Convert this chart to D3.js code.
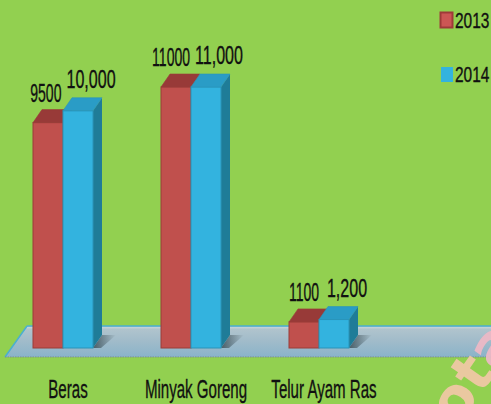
<!DOCTYPE html>
<html><head><meta charset="utf-8">
<script src="https://cdn.jsdelivr.net/npm/d3@7"></script>
<style>html,body{margin:0;padding:0;background:#92D050;}svg{display:block;}</style>
</head><body><div id="chart"></div>
<script>
const categories = ["Beras", "Minyak Goreng", "Telur Ayam Ras"];
const series = ["2013", "2014"];
const values2013 = [9500, 11000, 1100];
const values2014 = [10000, 11000, 1200];
const labels2013 = ["9500", "11000", "1100"];
const labels2014 = ["10,000", "11,000", "1,200"];

const W = 491, H = 404;
const colors = {
  "2013": {front: "#C0504D", top: "#983A38", side: "#8C3230", stroke: "#9A3C39"},
  "2014": {front: "#33B3DF", top: "#2A9CC6", side: "#1F7C98", stroke: "#2A93B8"}
};
const dx = 9, dy = 13;

const svg = d3.select("#chart").append("svg").attr("width", W).attr("height", H);
svg.append("rect").attr("width", W).attr("height", H).attr("fill", "#92D050");

const defs = svg.append("defs");
const fg = defs.append("linearGradient").attr("id", "floorGrad").attr("x1", 0).attr("y1", 0).attr("x2", 0).attr("y2", 1);
fg.append("stop").attr("offset", "0%").attr("stop-color", "#B4C6CE");
fg.append("stop").attr("offset", "45%").attr("stop-color", "#A2BCCA");
fg.append("stop").attr("offset", "100%").attr("stop-color", "#8AB3C9");
const sg = defs.append("linearGradient").attr("id", "shadowGrad").attr("x1", 0).attr("y1", 0).attr("x2", 1).attr("y2", 0);
sg.append("stop").attr("offset", "0%").attr("stop-color", "#2f3f45").attr("stop-opacity", 0.75);
sg.append("stop").attr("offset", "100%").attr("stop-color", "#2f3f45").attr("stop-opacity", 0);

const x0 = d3.scaleBand().domain(categories).range([-1, 383]).paddingInner(0.53125).paddingOuter(0.265625);
const x1 = d3.scaleBand().domain(series).range([0, x0.bandwidth()]);
const y = d3.scaleLinear().domain([0, 11000]).range([348, 87]);

// floor
const yb = y(0);
const floorFront = yb + 9, floorBack = yb - 22;
svg.append("polygon")
  .attr("points", [[5, floorFront], [27, floorBack], [W + 5, floorBack], [W + 5, floorFront]].map(p => p.join(",")).join(" "))
  .attr("fill", "url(#floorGrad)");
svg.append("line").attr("x1", 27).attr("y1", floorBack).attr("x2", W).attr("y2", floorBack)
  .attr("stroke", "#4AAFD0").attr("stroke-width", 1.5);
svg.append("line").attr("x1", 27).attr("y1", floorBack + 1.8).attr("x2", W).attr("y2", floorBack + 1.8)
  .attr("stroke", "#C9D6DB").attr("stroke-width", 1);
svg.append("line").attr("x1", 5).attr("y1", floorFront).attr("x2", 27).attr("y2", floorBack)
  .attr("stroke", "#4AAFD0").attr("stroke-width", 1.5);
svg.append("line").attr("x1", 5).attr("y1", floorFront).attr("x2", W).attr("y2", floorFront)
  .attr("stroke", "#7E8E8E").attr("stroke-width", 1.2).attr("stroke-dasharray", "1.5,1");

const data = categories.map((c, i) => ({
  cat: c,
  bars: [
    {s: "2013", v: values2013[i], label: labels2013[i]},
    {s: "2014", v: values2014[i], label: labels2014[i]}
  ]
}));

const g = svg.append("g");
data.forEach(d => {
  d.bars.forEach((b, j) => {
    const x = x0(d.cat) + x1(b.s), w = x1.bandwidth();
    const yt = y(b.v), ybot = y(0);
    const c = colors[b.s];
    if (j === d.bars.length - 1) {
      g.append("polygon")
        .attr("points", [[x + w, ybot], [x + w + dx, ybot - dy], [x + w + dx + 14, ybot - dy], [x + w + 8, ybot]].map(p => p.join(",")).join(" "))
        .attr("fill", "url(#shadowGrad)");
    }
    g.append("polygon")
      .attr("points", [[x + w, yt], [x + w + dx, yt - dy], [x + w + dx, ybot - dy], [x + w, ybot]].map(p => p.join(",")).join(" "))
      .attr("fill", c.side);
    g.append("rect").attr("x", x).attr("y", yt).attr("width", w).attr("height", ybot - yt)
      .attr("fill", c.front).attr("stroke", c.stroke).attr("stroke-width", 1);
    g.append("polygon")
      .attr("points", [[x, yt], [x + dx, yt - dy], [x + w + dx, yt - dy], [x + w, yt]].map(p => p.join(",")).join(" "))
      .attr("fill", c.top).attr("stroke", c.stroke).attr("stroke-width", 0.6);
  });
});

// watermark fragment (on top of the floor, bottom-right corner)
const wm = svg.append("text")
  .attr("transform", "translate(458,428) rotate(-55)")
  .attr("font-family", "'DejaVu Sans', sans-serif").attr("font-size", 58).attr("font-weight", "bold")
  .attr("fill", "#EFC8A5").attr("opacity", 0.95);
wm.append("tspan").text("ot");
wm.append("tspan").attr("fill", "#ECB9C6").text("a");

// text helper (condensed look)
const font = "'Liberation Sans', Arial, sans-serif";
function condensedText(parent, txt, cx, by, size, sx, anchor) {
  return parent.append("text")
    .attr("transform", `translate(${cx},${by}) scale(${sx},1)`)
    .attr("text-anchor", anchor || "middle")
    .attr("font-family", font).attr("font-size", size).attr("fill", "#111")
    .attr("stroke", "#111").attr("stroke-width", 0.35)
    .text(txt);
}
data.forEach(d => {
  const xr = x0(d.cat) + x1("2013"), xbl = x0(d.cat) + x1("2014"), w = x1.bandwidth();
  const rs = 0.55, bs = 0.63;
  const r = d.bars[0], b = d.bars[1];
  let rcx = xr + w / 2;
  const bcx = xbl + w / 2 + 13;
  const rText = condensedText(svg, r.label, rcx, y(r.v) - 21, 25.5, rs);
  const bText = condensedText(svg, b.label, bcx, y(b.v) - 23, 25.5, bs);
  const rw = rText.node().getComputedTextLength() * rs;
  const bw = bText.node().getComputedTextLength() * bs;
  const overlap = (rcx + rw / 2) - (bcx - bw / 2) + 5;
  if (overlap > 0 && Math.abs(y(r.v) - y(b.v)) < 20) {
    rcx -= overlap;
    rText.attr("transform", `translate(${rcx},${y(r.v) - 21}) scale(${rs},1)`);
  }
});

// category labels
categories.forEach(c => {
  condensedText(svg, c, x0(c) + x0.bandwidth() / 2 + 5, 398, 26, 0.58);
});

// legend
const leg = [
  {s: "2013", y: 12, h: 16},
  {s: "2014", y: 67, h: 15}
];
leg.forEach(l => {
  const c = colors[l.s];
  if (l.s === "2013") {
    svg.append("rect").attr("x", 440.5).attr("y", l.y + 0.5).attr("width", 12).attr("height", l.h - 1)
      .attr("fill", "#CC5654").attr("stroke", "#9E3A38").attr("stroke-width", 2);
  } else {
    svg.append("rect").attr("x", 441).attr("y", l.y).attr("width", 12).attr("height", l.h)
      .attr("fill", c.front);
  }
  condensedText(svg, l.s, 455, l.y + l.h, 21.5, 0.72, "start");
});
</script>
</body></html>
